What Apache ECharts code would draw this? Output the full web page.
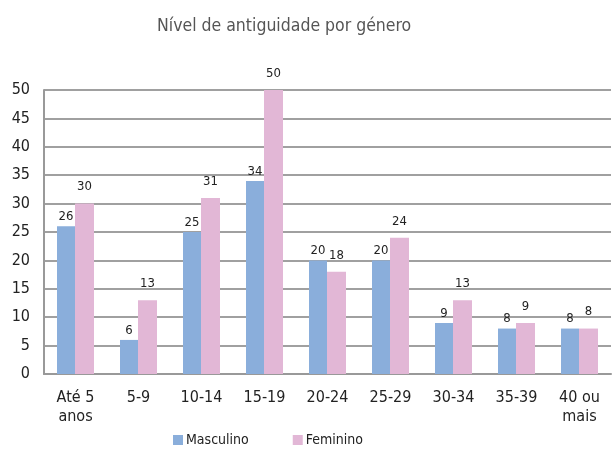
<!DOCTYPE html>
<html>
<head>
<meta charset="utf-8">
<script src="https://cdn.jsdelivr.net/npm/echarts@6/dist/echarts.min.js"></script>
<style>
  html, body { margin: 0; padding: 0; background: #fff; }
  #chart { width: 613px; height: 451px; }
</style>
</head>
<body>
<div id="chart"></div>
<script>
    // dados do gráfico
    var categorias = ['Até 5\nanos', '5-9', '10-14', '15-19', '20-24', '25-29', '30-34', '35-39', '40 ou\nmais'];
    var masculino = [26, 6, 25, 34, 20, 20, 9, 8, 8];
    var feminino = [30, 13, 31, 50, 18, 24, 13, 9, 8];
    var yTicks = [0, 5, 10, 15, 20, 25, 30, 35, 40, 45, 50];

    var fonte = '"DejaVu Sans Condensed", "Liberation Sans Narrow", sans-serif';

    var myChart = echarts.init(document.getElementById('chart'));
    var option = {
        animation: false,
        title: {
            text: 'Nível de antiguidade por género',
            left: 152,
            top: 12,
            textStyle: { color: '#555', fontSize: 17.5, fontWeight: 'normal', fontFamily: fonte }
        },
        legend: {
            bottom: -1,
            left: 168,
            itemWidth: 10,
            itemHeight: 10,
            itemGap: 44,
            icon: 'rect',
            textStyle: { color: '#222', fontSize: 14, fontFamily: fonte, padding: [0, 0, 0, -2] }
        },
        grid: { left: 44, right: 2, top: 90, bottom: 77 },
        xAxis: {
            type: 'category',
            data: categorias,
            axisLine: { lineStyle: { color: '#999', width: 2 } },
            axisTick: { show: false },
            axisLabel: { color: '#222', fontSize: 16, fontFamily: fonte, margin: 14, lineHeight: 19, interval: 0 }
        },
        yAxis: {
            type: 'value',
            min: yTicks[0],
            max: yTicks[yTicks.length - 1],
            interval: 5,
            axisLine: { show: true, lineStyle: { color: '#999', width: 2 } },
            axisTick: { show: false },
            axisLabel: { color: '#222', fontSize: 16, fontFamily: fonte, margin: 14 },
            splitLine: { lineStyle: { color: '#a0a0a0', width: 2 } }
        },
        series: [{
            name: 'Masculino',
            type: 'bar',
            data: masculino,
            barWidth: 18,
            barGap: '0%',
            itemStyle: { color: '#8aaedb' },
            label: { show: true, position: 'top', color: '#222', fontSize: 13, fontFamily: fonte, distance: 3 }
        }, {
            name: 'Feminino',
            type: 'bar',
            data: feminino,
            barWidth: 19,
            itemStyle: { color: '#e2b7d6' },
            label: { show: true, position: 'top', color: '#222', fontSize: 13, fontFamily: fonte, distance: 10 }
        }]
    };
    myChart.setOption(option);
</script>
</body>
</html>
